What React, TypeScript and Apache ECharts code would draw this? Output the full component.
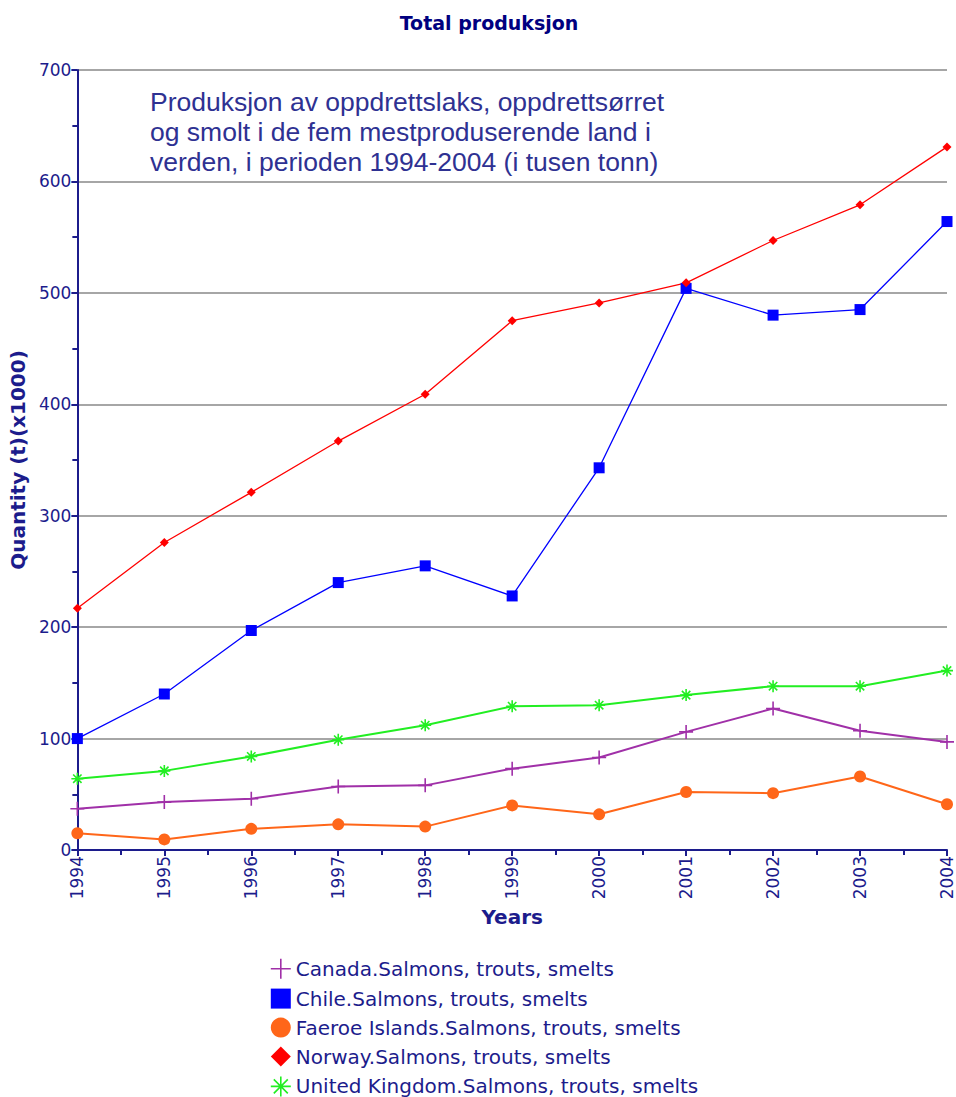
import React, { useEffect, useRef } from "react";
import * as echarts from "echarts";

const years = [1994, 1995, 1996, 1997, 1998, 1999, 2000, 2001, 2002, 2003, 2004];
const canada = [37, 43, 46, 57, 58, 73, 83, 106, 127, 107, 97];
const chile = [100, 140, 197, 240, 255, 228, 343, 504, 480, 485, 564];
const faroe = [15, 9.5, 19, 23, 21, 40, 32, 52, 51, 66, 41];
const norway = [217, 276, 321, 367, 409, 475, 491, 509, 547, 579, 631];
const uk = [64, 71, 84, 99, 112, 129, 130, 139, 147, 147, 161];
const names = [
  "Canada.Salmons, trouts, smelts",
  "Chile.Salmons, trouts, smelts",
  "Faeroe Islands.Salmons, trouts, smelts",
  "Norway.Salmons, trouts, smelts",
  "United Kingdom.Salmons, trouts, smelts",
];
const noteLines = [
  "Produksjon av oppdrettslaks, oppdrettsørret",
  "og smolt i de fem mestproduserende land i",
  "verden, i perioden 1994-2004 (i tusen tonn)",
];

const NAVY = "#1c1c8c";
const PLUS = "path://M0,6 L12,6 M6,0 L6,12";
const STAR = "path://M6,0 L6,12 M0,6 L12,6 M1.8,1.8 L10.2,10.2 M10.2,1.8 L1.8,10.2";

export default function App() {
  const ref = useRef<HTMLDivElement>(null);
  useEffect(() => {
    const chart = echarts.init(ref.current!, null, { renderer: "svg" });
    const pairs = (vals: number[]) => years.map((y, i) => [y, vals[i]]);
    const mk = (
      name: string,
      vals: number[],
      color: string,
      symbol: string,
      size: number,
      width: number,
      stroke: boolean
    ) => ({
      name,
      type: "line",
      data: pairs(vals),
      symbol,
      symbolSize: size,
      showSymbol: true,
      lineStyle: { color, width },
      itemStyle: stroke
        ? { color, borderColor: color, borderWidth: 1.6 }
        : { color, borderWidth: 0 },
      emphasis: { disabled: true },
    });
    chart.setOption({
      animation: false,
      backgroundColor: "#ffffff",
      title: {
        text: "Total produksjon",
        left: 484,
        textAlign: "center",
        top: 8,
        textStyle: { fontFamily: "DejaVu Sans", fontWeight: "bold", fontSize: 19, color: "#000080" },
      },
      grid: { left: 76, right: 9, top: 70, bottom: 247 },
      legend: {
        orient: "vertical",
        left: 270,
        top: 958,
        height: 150,
        padding: 0,
        itemWidth: 20,
        itemHeight: 20,
        itemGap: 9,
        textStyle: { fontFamily: "DejaVu Sans", fontSize: 20, lineHeight: 20, color: NAVY },
        data: [
          { name: names[0], icon: PLUS, itemStyle: { color: "#a030a8", borderColor: "#a030a8", borderWidth: 1.6 } },
          { name: names[1], icon: "rect", itemStyle: { color: "#0000ff", borderWidth: 0 } },
          { name: names[2], icon: "circle", itemStyle: { color: "#ff6619", borderWidth: 0 } },
          { name: names[3], icon: "diamond", itemStyle: { color: "#ff0000", borderWidth: 0 } },
          { name: names[4], icon: STAR, itemStyle: { color: "#22ee22", borderColor: "#22ee22", borderWidth: 1.6 } },
        ],
      },
      xAxis: {
        type: "value",
        min: 1994,
        max: 2004,
        interval: 1,
        name: "Years",
        nameLocation: "middle",
        nameGap: 56,
        nameTextStyle: { fontFamily: "DejaVu Sans", fontWeight: "bold", fontSize: 20, color: NAVY },
        axisLine: { show: true, lineStyle: { color: NAVY, width: 2 } },
        axisTick: { show: true, length: 6, lineStyle: { color: NAVY, width: 2 } },
        minorTick: { show: true, splitNumber: 2, length: 5, lineStyle: { color: NAVY, width: 2 } },
        splitLine: { show: false },
        axisLabel: {
          rotate: 90,
          margin: 6,
          fontFamily: "DejaVu Sans",
          fontSize: 17,
          color: NAVY,
          formatter: (v: number) => String(v),
        },
      },
      yAxis: {
        type: "value",
        min: 0,
        max: 700,
        interval: 100,
        name: "Quantity (t)(x1000)",
        nameLocation: "middle",
        nameRotate: 90,
        nameGap: 44,
        nameTextStyle: { fontFamily: "DejaVu Sans", fontWeight: "bold", fontSize: 20, color: NAVY },
        axisLine: { show: true, lineStyle: { color: NAVY, width: 2 } },
        axisTick: { show: true, length: 6, lineStyle: { color: NAVY, width: 2 } },
        minorTick: { show: true, splitNumber: 2, length: 5, lineStyle: { color: NAVY, width: 2 } },
        splitLine: { show: true, lineStyle: { color: "#a6a6a6", width: 2 } },
        axisLabel: { margin: 6, fontFamily: "DejaVu Sans", fontSize: 17, color: NAVY },
      },
      graphic: [
        {
          type: "group",
          z: 50,
          children: [
            { type: "rect", shape: { x: 130, y: 80, width: 567, height: 106 }, style: { fill: "#ffffff" } },
            {
              type: "text",
              x: 150,
              y: 87,
              style: {
                text: noteLines.join("\n"),
                fontFamily: "Liberation Sans",
                fontSize: 26.5,
                lineHeight: 30,
                fill: "#2e3192",
              },
            },
          ],
        },
      ],
      series: [
        mk(names[0], canada, "#a030a8", PLUS, 14, 2, true),
        mk(names[1], chile, "#0000ff", "rect", 11, 1.3, false),
        mk(names[2], faroe, "#ff6619", "circle", 12, 2, false),
        mk(names[3], norway, "#ff0000", "diamond", 9, 1.3, false),
        mk(names[4], uk, "#22ee22", STAR, 12, 2, true),
      ],
    });
    return () => chart.dispose();
  }, []);
  return <div ref={ref} style={{ position: "fixed", left: 0, top: 0, width: 956, height: 1097 }} />;
}
